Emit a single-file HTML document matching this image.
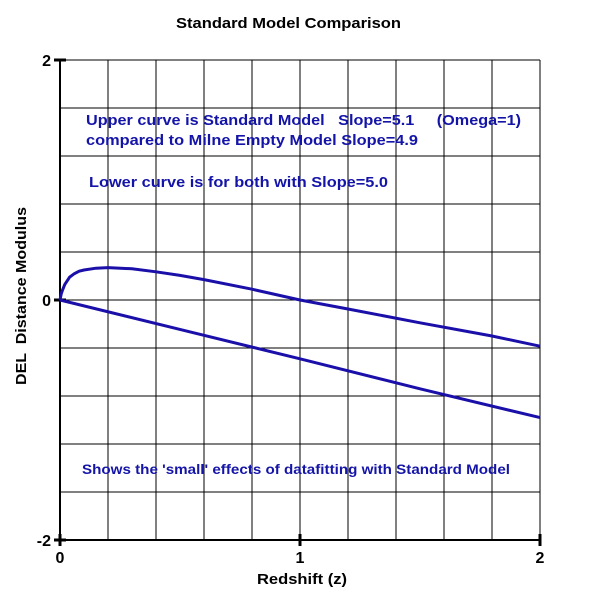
<!DOCTYPE html>
<html><head><meta charset="utf-8"><style>
body{margin:0;background:#fff}
svg text{font-family:"Liberation Sans",Arial,sans-serif;font-weight:bold;white-space:pre}
</style></head><body>
<svg id="chart" width="600" height="600">
<text x="176" y="28" font-size="15" textLength="225" lengthAdjust="spacingAndGlyphs">Standard Model Comparison</text>
<g id="grid"></g>
<g id="ticks"></g>
<text x="257" y="584" font-size="15" textLength="90" lengthAdjust="spacingAndGlyphs">Redshift (z)</text>
<text transform="translate(26,385) rotate(-90)" font-size="15" textLength="178" lengthAdjust="spacingAndGlyphs">DEL  Distance Modulus</text>
<g fill="#1414a8" font-size="15">
<text x="86" y="125" textLength="435" lengthAdjust="spacingAndGlyphs">Upper curve is Standard Model   Slope=5.1     (Omega=1)</text>
<text x="86" y="145" textLength="332" lengthAdjust="spacingAndGlyphs">compared to Milne Empty Model Slope=4.9</text>
<text x="89" y="187" textLength="299" lengthAdjust="spacingAndGlyphs">Lower curve is for both with Slope=5.0</text>
<text x="82" y="474" font-size="14" textLength="428" lengthAdjust="spacingAndGlyphs">Shows the 'small' effects of datafitting with Standard Model</text>
</g>
<g id="series"></g>
</svg>
<script>
const upperZ=[0,0.005,0.01,0.02,0.03,0.04,0.06,0.08,0.1,0.15,0.2,0.3,0.4,0.5,0.6,0.8,1.0,1.2,1.5,1.8,2.0];
const upperV=[0,0.05,0.08,0.13,0.16,0.19,0.22,0.24,0.25,0.265,0.27,0.26,0.235,0.205,0.17,0.09,0,-0.075,-0.19,-0.3,-0.385];
const lowerZ=[0,0.5,1.0,1.5,2.0];
const lowerV=[0,-0.245,-0.49,-0.74,-0.98];
const xTicks=["0","1","2"];
const yTicks=["-2","0","2"];
const X=z=>60+z*240, Y=v=>300-v*120;
const NS="http://www.w3.org/2000/svg";
function mk(t,a,p){const e=document.createElementNS(NS,t);for(const k in a)e.setAttribute(k,a[k]);p.appendChild(e);return e;}
const grid=document.getElementById('grid');
for(let i=0;i<=10;i++){
 const gx=mk('line',{x1:X(i*0.2),x2:X(i*0.2),y1:60,y2:540,stroke:'#000','stroke-width':1},grid);
 
 
 const gy=mk('line',{x1:60,x2:540,y1:Y(-2+i*0.4),y2:Y(-2+i*0.4),stroke:'#000','stroke-width':1},grid);
 
 
}
const ax=mk('line',{x1:60,x2:60,y1:60,y2:540,stroke:'#000','stroke-width':2},grid);


const ax2=mk('line',{x1:60,x2:540,y1:540,y2:540,stroke:'#000','stroke-width':2},grid);


const ticks=document.getElementById('ticks');
xTicks.forEach(t=>{const z=+t;
 const l=mk('text',{x:X(z),y:563,'font-size':16,'text-anchor':'middle'},ticks);l.textContent=t;
 
 
 const m=mk('line',{x1:X(z),x2:X(z),y1:534,y2:546,stroke:'#000','stroke-width':3},ticks);
 
 
});
yTicks.forEach(t=>{const v=+t;
 const l=mk('text',{x:51,y:Y(v)+6,'font-size':16,'text-anchor':'end'},ticks);l.textContent=t;
 
 
 const m=mk('line',{x1:54,x2:66,y1:Y(v),y2:Y(v),stroke:'#000','stroke-width':3},ticks);
 
 
});
const ser=document.getElementById('series');
const p1=mk('polyline',{points:upperZ.map((z,i)=>X(z)+','+Y(upperV[i])).join(' '),fill:'none',stroke:'#1a0fa8','stroke-width':3},ser);


const p2=mk('polyline',{points:lowerZ.map((z,i)=>X(z)+','+Y(lowerV[i])).join(' '),fill:'none',stroke:'#1a0fa8','stroke-width':3},ser);


</script>
</body></html>
